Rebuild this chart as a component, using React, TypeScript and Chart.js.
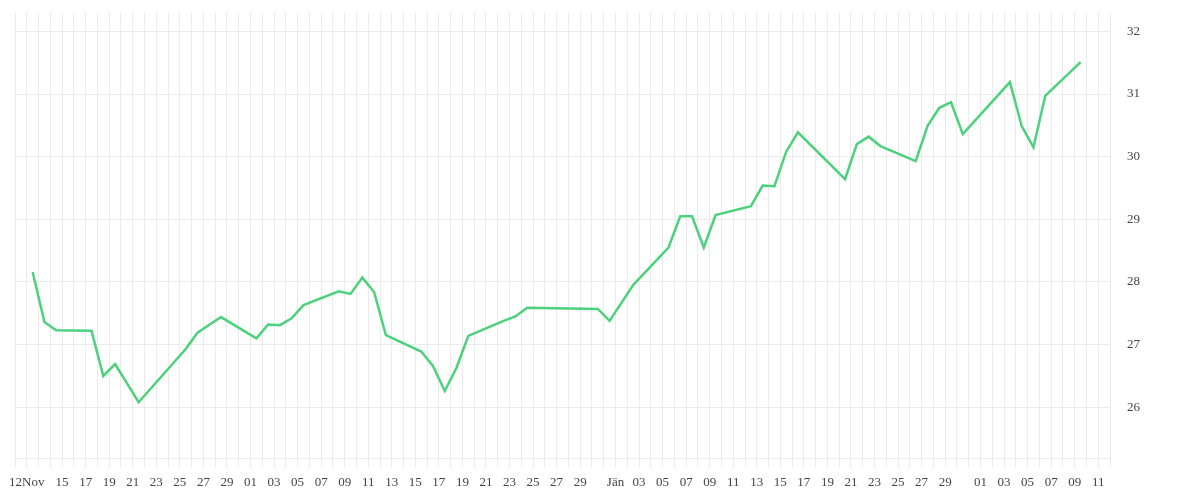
import React, { useEffect, useRef } from "react";
import { Chart, registerables } from "chart.js";

Chart.register(...registerables);

// Observation dates and values
const dates: string[] = [
  "2023-11-12", "2023-11-13", "2023-11-14", "2023-11-17", "2023-11-18", "2023-11-19",
  "2023-11-21", "2023-11-25", "2023-11-26", "2023-11-28",
  "2023-12-01", "2023-12-02", "2023-12-03", "2023-12-04", "2023-12-05", "2023-12-08",
  "2023-12-09", "2023-12-10", "2023-12-11", "2023-12-12", "2023-12-15", "2023-12-16",
  "2023-12-17", "2023-12-18", "2023-12-19", "2023-12-22", "2023-12-23", "2023-12-24",
  "2023-12-30", "2023-12-31",
  "2024-01-02", "2024-01-05", "2024-01-06", "2024-01-07", "2024-01-08", "2024-01-09",
  "2024-01-12", "2024-01-13", "2024-01-14", "2024-01-15", "2024-01-16", "2024-01-20",
  "2024-01-21", "2024-01-22", "2024-01-23", "2024-01-26", "2024-01-27", "2024-01-28",
  "2024-01-29", "2024-01-30",
  "2024-02-03", "2024-02-04", "2024-02-05", "2024-02-06", "2024-02-09",
];

const values: number[] = [
  28.16, 27.36, 27.23, 27.22, 26.5, 26.69,
  26.08, 26.93, 27.19, 27.44,
  27.1, 27.32, 27.31, 27.42, 27.63, 27.85,
  27.81, 28.07, 27.84, 27.15, 26.89, 26.66,
  26.26, 26.63, 27.14, 27.38, 27.45, 27.59,
  27.57, 27.38,
  27.95, 28.55, 29.05, 29.05, 28.55, 29.07,
  29.21, 29.54, 29.53, 30.08, 30.39, 29.64,
  30.2, 30.32, 30.17, 29.93, 30.49, 30.78,
  30.87, 30.36,
  31.19, 30.49, 30.15, 30.97, 31.51,
];

// X tick labels
const tickDates: string[] = [
  "2023-11-12", "2023-11-15", "2023-11-17", "2023-11-19", "2023-11-21", "2023-11-23",
  "2023-11-25", "2023-11-27", "2023-11-29",
  "2023-12-01", "2023-12-03", "2023-12-05", "2023-12-07", "2023-12-09", "2023-12-11",
  "2023-12-13", "2023-12-15", "2023-12-17", "2023-12-19", "2023-12-21", "2023-12-23",
  "2023-12-25", "2023-12-27", "2023-12-29",
  "2024-01-01", "2024-01-03", "2024-01-05", "2024-01-07", "2024-01-09", "2024-01-11",
  "2024-01-13", "2024-01-15", "2024-01-17", "2024-01-19", "2024-01-21", "2024-01-23",
  "2024-01-25", "2024-01-27", "2024-01-29",
  "2024-02-01", "2024-02-03", "2024-02-05", "2024-02-07", "2024-02-09", "2024-02-11",
];

const tickLabels: string[] = [
  "12Nov", "15", "17", "19", "21", "23", "25", "27", "29",
  "01", "03", "05", "07", "09", "11", "13", "15", "17", "19", "21", "23", "25", "27", "29",
  "Jän", "03", "05", "07", "09", "11", "13", "15", "17", "19", "21", "23", "25", "27", "29",
  "01", "03", "05", "07", "09", "11",
];

const axisStart = "2023-11-11";
const axisEnd = "2024-02-12";
const yMin = 25.19;
const yMax = 32.31;

const toDay = (s: string, hour = 0): number =>
  new Date(s + "T00:00:00Z").getTime() / 86400000 + hour / 24;

export default function App() {
  const canvasRef = useRef<HTMLCanvasElement | null>(null);

  useEffect(() => {
    if (!canvasRef.current) return;
    const labelMap = new Map<number, string>();
    tickDates.forEach((d, i) => labelMap.set(Math.round(toDay(d)), tickLabels[i]));

    const gridColor = "#ebebeb";
    const font = { family: "'Liberation Serif', serif", size: 13 };
    const chart = new Chart(canvasRef.current, {
      type: "line",
      data: {
        datasets: [
          {
            data: dates.map((d, i) => ({ x: toDay(d, 12), y: values[i] })),
            borderColor: "#4cd17c",
            backgroundColor: "#4cd17c",
            borderWidth: 2.5,
            pointRadius: 0,
            tension: 0,
            fill: false,
          },
        ],
      },
      options: {
        animation: false,
        responsive: true,
        maintainAspectRatio: false,
        layout: { padding: { top: 4, left: 7, right: 0, bottom: 0 } },
        plugins: { legend: { display: false }, tooltip: { enabled: false } },
        scales: {
          x: {
            type: "linear",
            min: toDay(axisStart),
            max: toDay(axisEnd),
            afterBuildTicks: (axis: any) => {
              const t: { value: number }[] = [];
              for (let d = Math.round(axis.min); d <= Math.round(axis.max); d++) t.push({ value: d });
              axis.ticks = t;
            },
            afterFit: (scale: any) => {
              scale.height = 34;
            },
            grid: { color: gridColor, lineWidth: 1, tickLength: 10, drawTicks: true },
            border: { color: gridColor },
            ticks: {
              autoSkip: false,
              maxRotation: 0,
              minRotation: 0,
              padding: 7,
              color: "#444",
              font,
              callback: (v: any) => labelMap.get(Math.round(Number(v))) ?? "",
            },
          },
          y: {
            type: "linear",
            position: "right",
            min: yMin,
            max: yMax,
            afterBuildTicks: (axis: any) => {
              axis.ticks = axis.ticks.filter((t: any) => Math.abs(t.value - Math.round(t.value)) < 1e-6);
            },
            afterFit: (scale: any) => {
              scale.width = 82;
              scale.paddingTop = 0;
              scale.paddingBottom = 0;
            },
            grid: { color: gridColor, lineWidth: 1, drawTicks: true, tickLength: 14, tickColor: "rgba(0,0,0,0)" },
            border: { color: gridColor },
            ticks: {
              stepSize: 1,
              padding: 3,
              color: "#444",
              font,
            },
          },
        },
      } as any,
    });
    return () => chart.destroy();
  }, []);

  return (
    <div style={{ position: "relative", width: "100%", height: "484px" }}>
      <canvas ref={canvasRef} />
    </div>
  );
}
